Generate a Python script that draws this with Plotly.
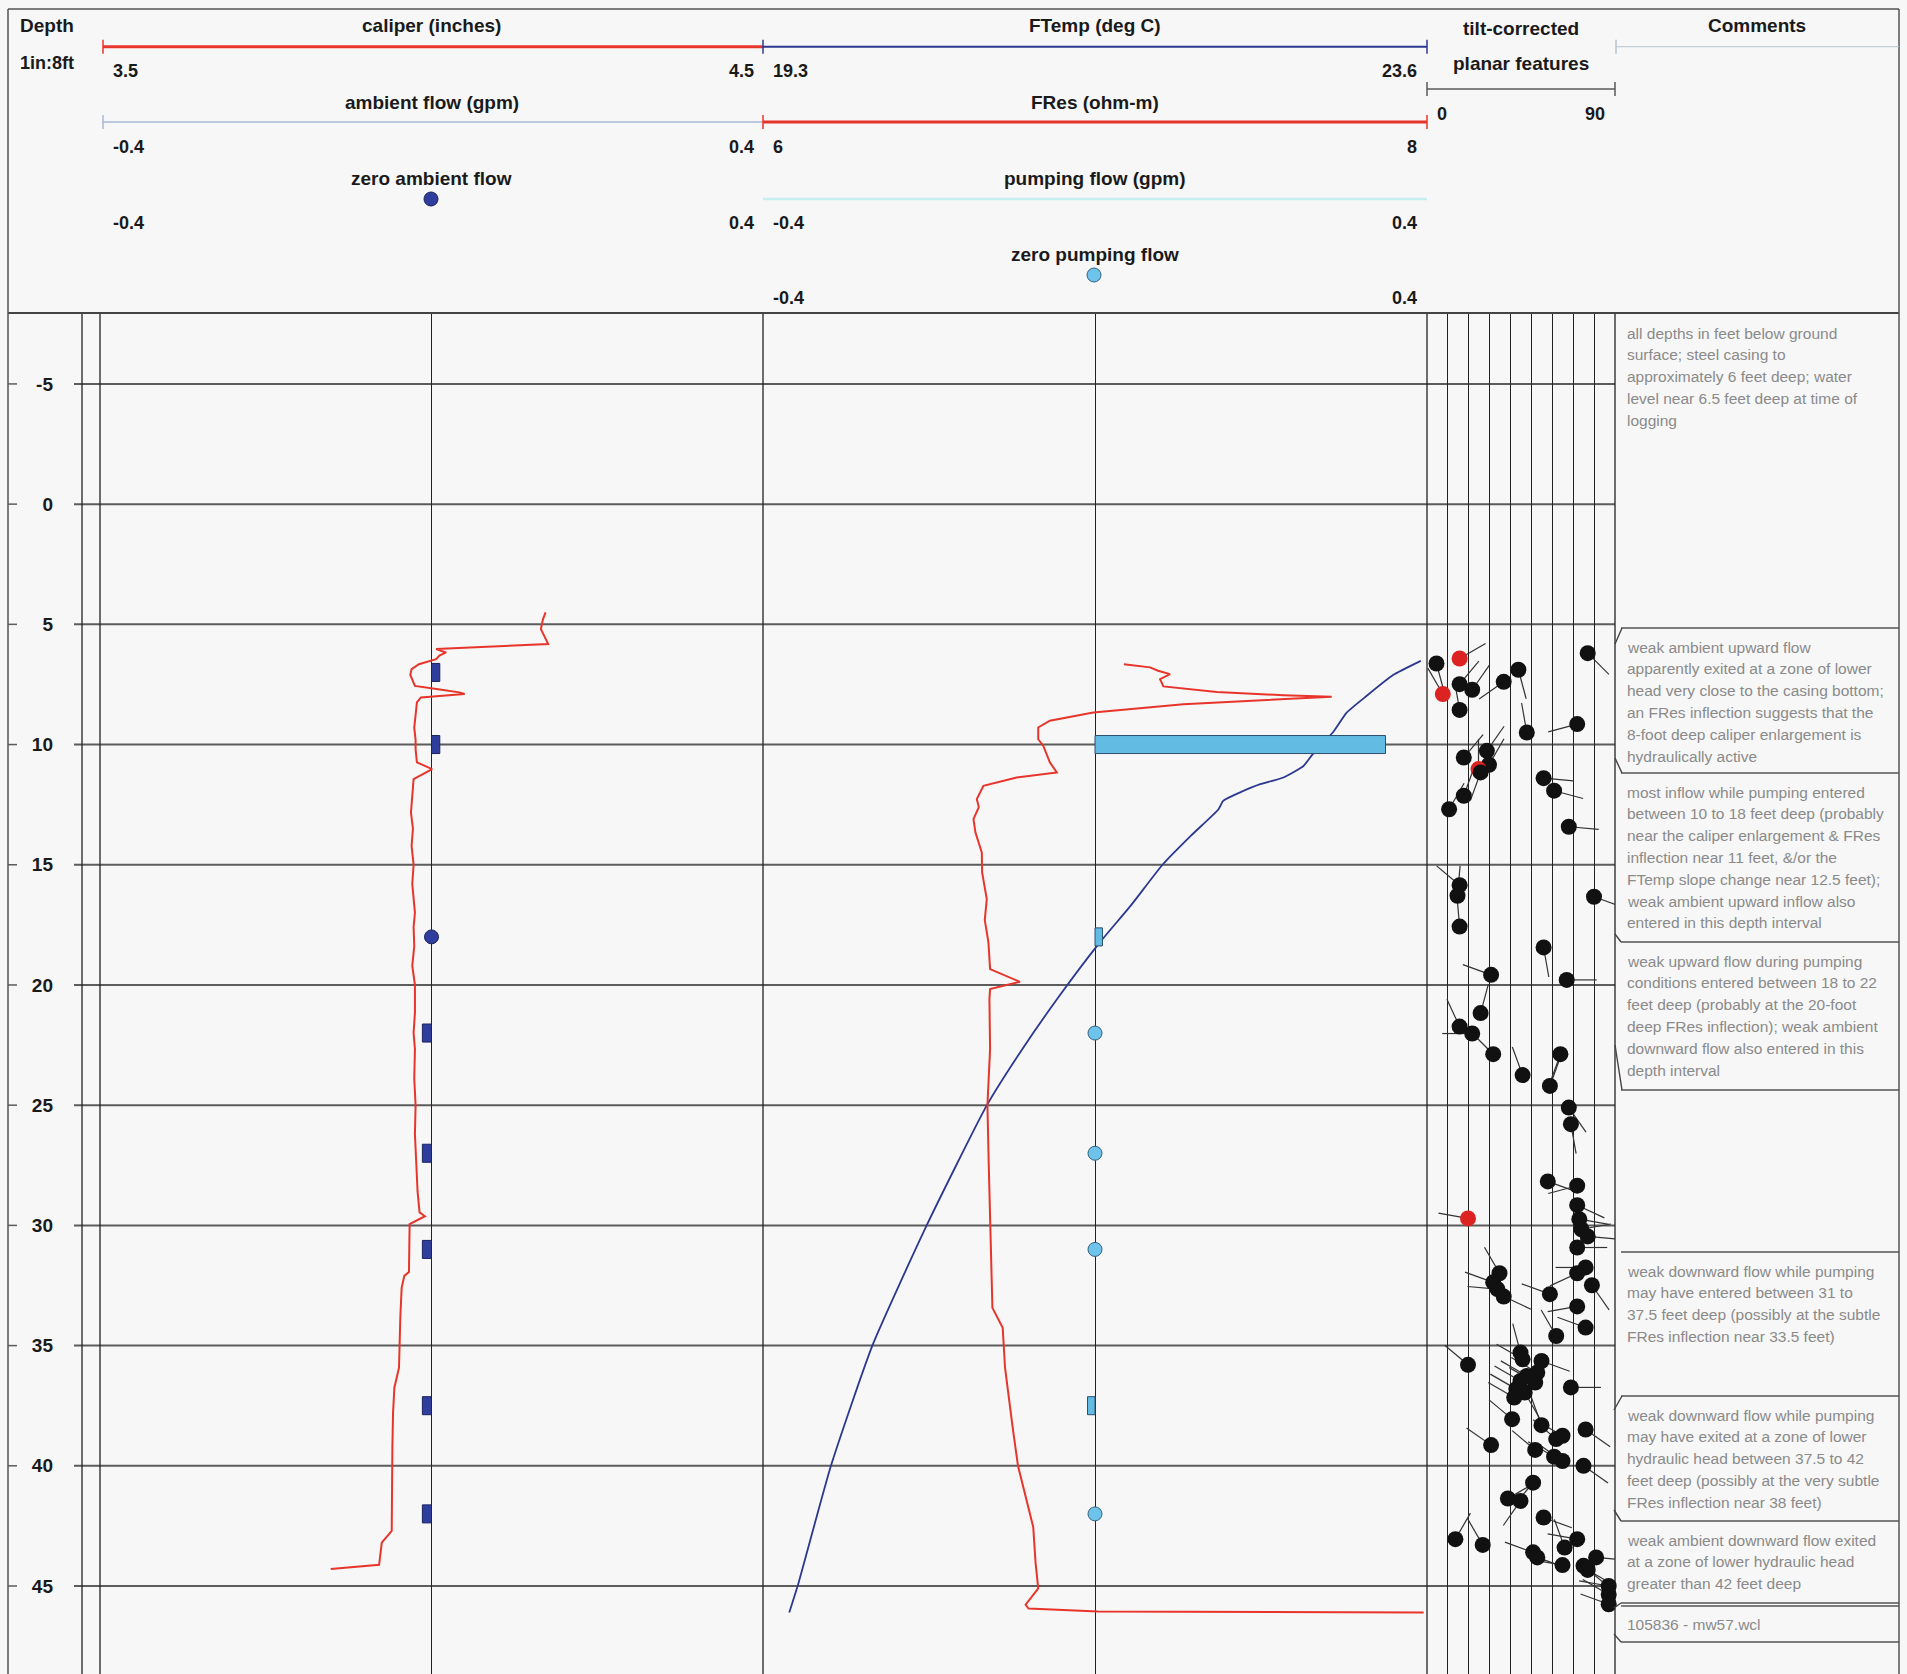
import math
import plotly.graph_objects as go

W, H = 1907, 1674
FONT = "Liberation Sans, Arial, Helvetica, sans-serif"

# ---------------- data ----------------
depth_ticks = [-5, 0, 5, 10, 15, 20, 25, 30, 35, 40, 45]
depth_tick_labels = ["-5", "0", "5", "10", "15", "20", "25", "30", "35", "40", "45"]
depth_range = [48.66, -7.95]

caliper_range = [3.5, 4.5]
ambient_range = [-0.4, 0.4]
ftemp_range = [19.3, 23.6]
fres_range = [6, 8]
pumping_range = [-0.4, 0.4]
dip_range = [0, 90]
dip_grid = [0, 10, 20, 30, 40, 50, 60, 70, 80, 90]

caliper_depth = [4.50, 4.80, 5.20, 5.50, 5.82, 6.03, 6.17, 6.30, 6.45, 6.66, 6.86, 7.10, 7.35, 7.56, 7.70,
                 7.83, 7.90, 8.04, 8.25, 8.70, 9.30, 9.80, 10.19, 10.74, 11.02, 11.44, 12.27, 12.83, 13.50,
                 14.22, 15.00, 15.80, 16.99, 17.60, 18.38, 19.20, 20.00, 21.15, 22.00, 22.66, 23.90, 25.00,
                 26.20, 27.63, 28.60, 29.46, 29.62, 29.95, 30.90, 31.94, 32.10, 32.60, 33.80, 35.00, 35.92,
                 36.75, 37.80, 39.23, 40.50, 41.60, 42.71, 43.20, 44.04, 44.12, 44.29]
caliper_in = [4.172, 4.168, 4.165, 4.170, 4.176, 4.007, 4.022, 4.012, 4.007, 3.981, 3.970, 3.968, 3.972,
              3.975, 4.010, 4.042, 4.050, 3.984, 3.978, 3.976, 3.974, 3.976, 3.976, 3.978, 4.001, 3.973,
              3.970, 3.969, 3.972, 3.970, 3.973, 3.971, 3.975, 3.973, 3.974, 3.971, 3.975, 3.975, 3.973,
              3.975, 3.974, 3.976, 3.975, 3.978, 3.979, 3.982, 3.990, 3.967, 3.967, 3.966, 3.959, 3.955,
              3.953, 3.952, 3.951, 3.944, 3.942, 3.941, 3.941, 3.940, 3.940, 3.925, 3.921, 3.921, 3.848]

ftemp_depth = [6.52, 7.11, 7.97, 8.67, 9.50, 10.40, 10.89, 11.37, 11.65, 11.99, 12.34, 12.69, 13.80, 14.98,
               16.71, 18.24, 20.45, 22.66, 25.00, 30.00, 34.97, 40.00, 44.87, 46.10]
ftemp_c = [23.56, 23.38, 23.21, 23.08, 22.99, 22.86, 22.80, 22.67, 22.52, 22.39, 22.28, 22.25, 22.07, 21.89,
           21.68, 21.48, 21.22, 20.98, 20.75, 20.36, 20.01, 19.74, 19.53, 19.47]

fres_depth = [6.66, 6.79, 6.93, 7.07, 7.28, 7.58, 7.81, 7.95, 8.01, 8.11, 8.32, 8.67, 9.01, 9.29, 9.78, 10.05,
              10.74, 11.16, 11.37, 11.72, 12.27, 12.60, 13.10, 13.66, 14.49, 15.32, 16.43, 17.30, 18.23,
              19.34, 19.87, 20.17, 20.60, 22.66, 25.00, 27.50, 29.80, 33.43, 34.26, 35.92, 38.40, 40.00,
              42.55, 44.04, 45.10, 45.78, 45.94, 46.06, 46.10]
fres_ohmm = [7.087, 7.166, 7.190, 7.226, 7.196, 7.206, 7.367, 7.567, 7.713, 7.567, 7.266, 6.995, 6.864, 6.829,
             6.829, 6.844, 6.864, 6.885, 6.764, 6.664, 6.644, 6.650, 6.634, 6.640, 6.659, 6.660, 6.674, 6.668,
             6.679, 6.684, 6.774, 6.684, 6.682, 6.684, 6.676, 6.680, 6.684, 6.691, 6.722, 6.729, 6.752, 6.768,
             6.814, 6.821, 6.829, 6.791, 6.800, 7.009, 7.990]

ambient_depth = [7, 10, 22, 27, 31, 37.5, 42]
ambient_gpm = [0.010, 0.010, -0.011, -0.011, -0.011, -0.011, -0.011]
ambient_zero_depth = [18]

pumping_depth = [10, 18, 37.5]
pumping_gpm = [0.35, 0.009, -0.009]
pumping_zero_depth = [22, 27, 31, 42]

planar_depth = [6.63, 6.42, 7.90, 7.49, 7.72, 8.56, 7.39, 6.89, 6.20, 9.50, 9.15, 10.54, 10.26, 10.84, 11.02,
                11.16, 11.40, 11.92, 12.13, 12.69, 13.42, 16.33, 15.85, 16.29, 17.57, 18.44, 19.58, 19.79,
                21.17, 21.73, 22.02, 22.88, 23.75, 22.88, 24.20, 25.10, 25.79, 28.17, 28.35, 29.16, 29.74,
                29.71, 30.16, 30.46, 30.92, 31.75, 31.99, 32.49, 31.99, 32.37, 32.65, 32.96, 32.86, 33.37,
                34.25, 34.60, 35.80, 35.29, 35.57, 35.64, 36.12, 36.26, 36.47, 36.54, 36.81, 36.95, 37.16,
                36.74, 38.06, 38.31, 38.75, 38.89, 38.49, 39.34, 39.14, 39.62, 39.80, 40.00, 40.70, 41.36,
                41.46, 42.15, 43.05, 43.29, 43.05, 43.40, 43.60, 43.81, 43.81, 44.13, 44.16, 44.33, 45.00,
                45.35, 45.76]
planar_dip = [5, 16, 8, 16, 22, 16, 37, 44, 77, 48, 72, 18, 29, 30, 25, 26, 56, 61, 18, 11, 68, 80, 16, 15,
              16, 56, 31, 67, 26, 16, 22, 32, 46, 64, 59, 68, 69, 58, 72, 72, 73, 20, 74, 77, 72, 76, 72, 79,
              35, 32, 34, 37, 59, 72, 76, 62, 20, 45, 46, 55, 53, 48, 45, 52, 43, 47, 42, 69, 41, 55, 65, 62,
              76, 52, 31, 61, 65, 75, 51, 39, 45, 56, 14, 27, 72, 66, 51, 53, 81, 65, 75, 77, 87, 87, 87]
planar_azimuth = [165, 60, 330, 40, 35, 350, 235, 165, 135, 350, 255, 40, 35, 30, 0, 200, 95, 105, 20, 30, 95,
                  110, 310, 5, 355, 170, 290, 90, 15, 335, 270, 315, 340, 200, 20, 145, 170, 110, 255, 115,
                  100, 280, 80, 95, 90, 270, 245, 145, 330, 290, 275, 115, 290, 260, 290, 330, 310, 345, 300,
                  110, 300, 300, 300, 300, 300, 150, 300, 90, 310, 340, 300, 310, 125, 310, 305, 300, 305, 125,
                  220, 60, 215, 110, 30, 330, 280, 340, 290, 110, 95, 280, 130, 120, 280, 300, 290]
planar_red_index = [1, 2, 14, 41]

comment_texts = [
    ["all depths in feet below ground", "surface; steel casing to", "approximately 6 feet deep; water",
     "level near 6.5 feet deep at time of", "logging"],
    ["weak ambient upward flow", "apparently exited at a zone of lower", "head very close to the casing bottom;",
     "an FRes inflection suggests that the", "8-foot deep caliper enlargement is", "hydraulically active"],
    ["most inflow while pumping entered", "between 10 to 18 feet deep (probably",
     "near the caliper enlargement & FRes", "inflection near 11 feet, &/or the",
     "FTemp slope change near 12.5 feet);", "weak ambient upward inflow also", "entered in this depth interval"],
    ["weak upward flow during pumping", "conditions entered between 18 to 22", "feet deep (probably at the 20-foot",
     "deep FRes inflection); weak ambient", "downward flow also entered in this", "depth interval"],
    ["weak downward flow while pumping", "may have entered between 31 to", "37.5 feet deep (possibly at the subtle",
     "FRes inflection near 33.5 feet)"],
    ["weak downward flow while pumping", "may have exited at a zone of lower", "hydraulic head between 37.5 to 42",
     "feet deep (possibly at the very subtle", "FRes inflection near 38 feet)"],
    ["weak ambient downward flow exited", "at a zone of lower hydraulic head", "greater than 42 feet deep"],
    ["105836 - mw57.wcl"],
]

# ---------------- layout geometry (pixels) ----------------
def PX(x):
    return x / W


def PY(y):
    return 1 - y / H


HEADER_BOTTOM = 313
T1 = (100, 763)
T2 = (763, 1427)
T3 = (1426, 1615)
COMM = (1615, 1899)

ydom = [0, PY(HEADER_BOTTOM)]

fig = go.Figure()

# caliper
fig.add_trace(go.Scatter(x=caliper_in, y=caliper_depth, xaxis="x", yaxis="y", mode="lines",
                         line=dict(color="#e8352b", width=2)))
# ambient flow
fig.add_trace(go.Bar(x=ambient_gpm, y=ambient_depth, orientation="h", xaxis="x2", yaxis="y", width=0.75,
                     marker=dict(color="#2f3d9c", line=dict(color="#1a2360", width=1))))
fig.add_trace(go.Scatter(x=[0] * len(ambient_zero_depth), y=ambient_zero_depth, xaxis="x2", yaxis="y",
                         mode="markers", marker=dict(size=14, color="#2f3d9c", line=dict(color="#1a2360", width=1))))
# FTemp & FRes
fig.add_trace(go.Scatter(x=ftemp_c, y=ftemp_depth, xaxis="x3", yaxis="y", mode="lines",
                         line=dict(color="#2b3890", width=1.8, shape="spline", smoothing=0.5)))
fig.add_trace(go.Scatter(x=fres_ohmm, y=fres_depth, xaxis="x4", yaxis="y", mode="lines",
                         line=dict(color="#e8352b", width=2)))
# pumping flow
fig.add_trace(go.Bar(x=pumping_gpm, y=pumping_depth, orientation="h", xaxis="x5", yaxis="y", width=0.75,
                     marker=dict(color="#62bbe3", line=dict(color="#2c4f6e", width=1))))
fig.add_trace(go.Scatter(x=[0] * len(pumping_zero_depth), y=pumping_zero_depth, xaxis="x5", yaxis="y",
                         mode="markers", marker=dict(size=14, color="#6ec3ea", line=dict(color="#35607f", width=1))))

# planar features: tails computed from azimuth via the axis scales
px_per_deg = (T3[1] - T3[0]) / (dip_range[1] - dip_range[0])
px_per_ft = (H - HEADER_BOTTOM) / abs(depth_range[0] - depth_range[1])
TAIL = 30
tx, ty = [], []
for d, dip, az in zip(planar_depth, planar_dip, planar_azimuth):
    a = math.radians(az)
    tx += [dip, dip + TAIL * math.sin(a) / px_per_deg, None]
    ty += [d, d - TAIL * math.cos(a) / px_per_ft, None]
fig.add_trace(go.Scatter(x=tx, y=ty, xaxis="x6", yaxis="y", mode="lines", line=dict(color="#333333", width=1.2),
                         cliponaxis=False))
colors = ["#dd2222" if i in planar_red_index else "#111111" for i in range(len(planar_depth))]
fig.add_trace(go.Scatter(x=planar_dip, y=planar_depth, xaxis="x6", yaxis="y", mode="markers", cliponaxis=False,
                         marker=dict(size=16, color=colors, line=dict(width=0))))

hidden = dict(showticklabels=False, ticks="", showline=False, showgrid=False, zeroline=False)
fig.update_layout(
    width=W, height=H, margin=dict(l=0, r=0, t=0, b=0),
    paper_bgcolor="#f7f7f7", plot_bgcolor="rgba(0,0,0,0)",
    showlegend=False, hovermode=False, barmode="overlay",
    yaxis=dict(domain=ydom, range=depth_range, anchor="free", position=PX(53), tickvals=depth_ticks,
               ticktext=depth_tick_labels, ticks="", showgrid=False, zeroline=False, showline=False,
               tickfont=dict(family=FONT, size=19, color="#1a1a1a", weight="bold")),
    xaxis=dict(domain=[PX(T1[0]), PX(T1[1])], range=caliper_range, anchor="y", **hidden),
    xaxis2=dict(domain=[PX(T1[0]), PX(T1[1])], range=ambient_range, anchor="y", overlaying="x",
                showticklabels=False, ticks="", showline=False, showgrid=False,
                zeroline=True, zerolinecolor="#222222", zerolinewidth=1.3),
    xaxis3=dict(domain=[PX(T2[0]), PX(T2[1])], range=ftemp_range, anchor="y", **hidden),
    xaxis4=dict(domain=[PX(T2[0]), PX(T2[1])], range=fres_range, anchor="y", overlaying="x3", **hidden),
    xaxis5=dict(domain=[PX(T2[0]), PX(T2[1])], range=pumping_range, anchor="y", overlaying="x3",
                showticklabels=False, ticks="", showline=False, showgrid=False,
                zeroline=True, zerolinecolor="#222222", zerolinewidth=1.3),
    xaxis6=dict(domain=[PX(T3[0]), PX(T3[1])], range=dip_range, anchor="y", tickvals=dip_grid,
                showticklabels=False, ticks="", showline=False, showgrid=True, gridcolor="#222222",
                gridwidth=1.3, zeroline=False),
)

shapes = []


def hline(x0, x1, y, color, width, layer="above"):
    shapes.append(dict(type="line", xref="paper", yref="paper", x0=PX(x0), x1=PX(x1), y0=PY(y), y1=PY(y),
                       line=dict(color=color, width=width), layer=layer))


def vline(x, y0, y1, color, width, layer="above"):
    shapes.append(dict(type="line", xref="paper", yref="paper", x0=PX(x), x1=PX(x), y0=PY(y0), y1=PY(y1),
                       line=dict(color=color, width=width), layer=layer))


def seg(x0, y0, x1, y1, color="#444444", width=1.4):
    shapes.append(dict(type="line", xref="paper", yref="paper", x0=PX(x0), x1=PX(x1), y0=PY(y0), y1=PY(y1),
                       line=dict(color=color, width=width)))


# depth grid lines (on the depth scale)
for d in depth_ticks:
    shapes.append(dict(type="line", xref="paper", yref="y", x0=PX(74), x1=PX(COMM[0]), y0=d, y1=d,
                       line=dict(color="#5c5c5c", width=2), layer="below"))
    shapes.append(dict(type="line", xref="paper", yref="y", x0=PX(8), x1=PX(17), y0=d, y1=d,
                       line=dict(color="#5c5c5c", width=1.5), layer="below"))

# frame and track lines
hline(8, 1899, 9, "#555555", 1.5)
hline(8, 1899, HEADER_BOTTOM, "#444444", 2)
vline(8, 9, H, "#555555", 1.5)
vline(1899, 9, H, "#555555", 1.5)
for x in (82, 100, T1[1], T2[1], T3[1]):
    vline(x, HEADER_BOTTOM, H, "#222222", 1.3, layer="below")


# header scale bars
def scale_bar(x0, x1, y, color, width, tick_left=None, tick_right=None):
    hline(x0, x1, y, color, width)
    if tick_left:
        vline(x0, y - 7, y + 7, tick_left, 1.5)
    if tick_right:
        vline(x1, y - 7, y + 7, tick_right, 1.5)


scale_bar(103, 763, 46.7, "#e8352b", 3, "#e8352b", "#2b3890")
scale_bar(763, 1427, 46.7, "#2b3890", 2, None, "#2b3890")
scale_bar(1616, 1899, 46.7, "#b4c4cc", 1, "#b4c4cc", None)
scale_bar(1427, 1615, 89, "#5a5a5a", 1.5, "#5a5a5a", "#5a5a5a")
scale_bar(103, 763, 122, "#a9b9da", 1.5, "#a9b9da", None)
scale_bar(763, 1427, 122, "#e8352b", 3, "#e8352b", "#e8352b")
scale_bar(763, 1427, 199, "#c6f0f0", 2.5, None, None)

# header legend dots
shapes.append(dict(type="circle", xref="paper", yref="paper", x0=PX(424), x1=PX(438), y0=PY(192), y1=PY(206),
                   fillcolor="#2f3d9c", line=dict(color="#1a2360", width=1)))
shapes.append(dict(type="circle", xref="paper", yref="paper", x0=PX(1087), x1=PX(1101), y0=PY(268), y1=PY(282),
                   fillcolor="#6ec3ea", line=dict(color="#35607f", width=1)))

# comment boxes
box_edges = [628, 773, 942, 1090, 1252, 1396, 1521, 1603, 1606, 1642]
for y in box_edges:
    hline(1621, 1899, y, "#555555", 1.5)
# callout notches
seg(1622, 628, 1615, 644)
seg(1615, 758, 1622, 773)
seg(1615, 934, 1621, 942)
seg(1615, 1045, 1622, 1090)
seg(1622, 1396, 1614, 1410)
seg(1614, 1510, 1621, 1521)
seg(1614, 1608, 1621, 1603)
seg(1614, 1634, 1621, 1642)

fig.update_layout(shapes=shapes)

# ---------------- annotations ----------------
anns = []


def text(x, y, s, anchor="center", size=18, bold=True, color="#1a1a1a"):
    anns.append(dict(x=PX(x), y=PY(y), xref="paper", yref="paper", text=(f"<b>{s}</b>" if bold else s),
                     showarrow=False, xanchor=anchor, yanchor="middle",
                     font=dict(family=FONT, size=size, color=color)))


def fmt(v):
    return f"{v:g}"


text(47, 26, "Depth", size=19)
text(47, 63, "1in:8ft", size=18)

track1_titles = ["caliper (inches)", "ambient flow (gpm)", "zero ambient flow"]
track1_scales = [caliper_range, ambient_range, ambient_range]
track2_titles = ["FTemp (deg C)", "FRes (ohm-m)", "pumping flow (gpm)", "zero pumping flow"]
track2_scales = [ftemp_range, fres_range, pumping_range, pumping_range]
title_rows = [26, 102, 179, 254]
label_rows = [71, 147, 223, 298]

for i, (t, sc) in enumerate(zip(track1_titles, track1_scales)):
    text((T1[0] + T1[1]) / 2, title_rows[i], t, size=19)
    text(111, label_rows[i], fmt(sc[0]), "left")
    text(756, label_rows[i], fmt(sc[1]), "right")
for i, (t, sc) in enumerate(zip(track2_titles, track2_scales)):
    text((T2[0] + T2[1]) / 2, title_rows[i], t, size=19)
    text(771, label_rows[i], fmt(sc[0]), "left")
    text(1419, label_rows[i], fmt(sc[1]), "right")

text(1521, 28, "tilt-corrected", size=19)
text(1521, 64, "planar features", size=19)
text(1435, 114, fmt(dip_range[0]), "left")
text(1607, 114, fmt(dip_range[1]), "right")
text(1757, 26, "Comments", size=19)

first_line_y = [333, 647, 792, 961, 1271, 1415, 1540, 1624]
LINE = 21.8
for lines, y0 in zip(comment_texts, first_line_y):
    for k, ln in enumerate(lines):
        s = ln.replace("&", "&amp;")
        text(1625, y0 + k * LINE, s, "left", size=15.5, bold=False, color="#8a8a8a")

fig.update_layout(annotations=anns)

fig.write_html("out.html", config={"displayModeBar": False},
               post_script="document.body.style.margin='0';document.body.style.overflow='hidden';")
